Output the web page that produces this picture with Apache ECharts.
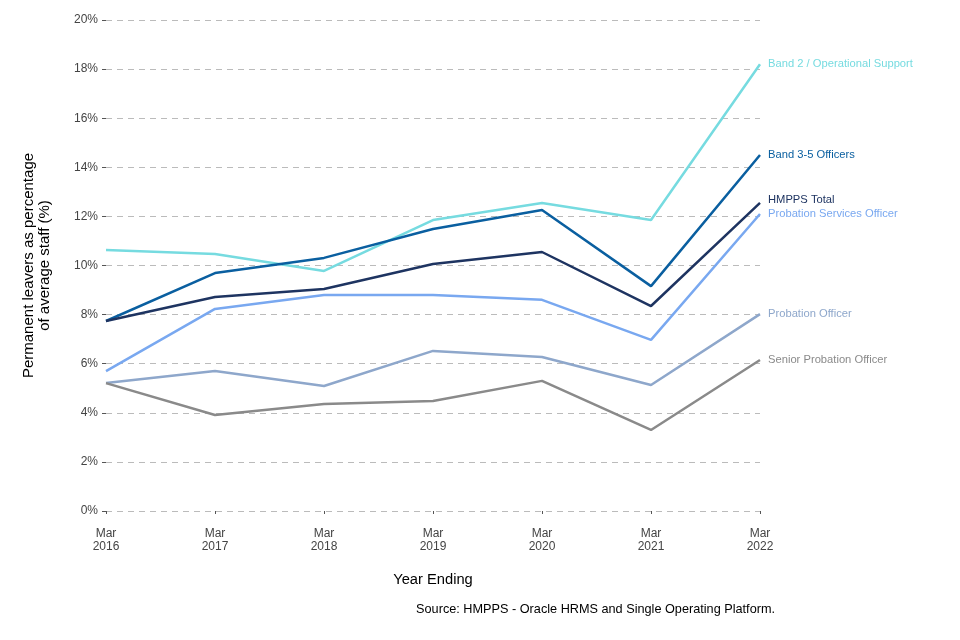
<!DOCTYPE html>
<html>
<head>
<meta charset="utf-8">
<script src="https://cdn.jsdelivr.net/npm/echarts@6/dist/echarts.min.js"></script>
<style>html,body{margin:0;padding:0;background:#fff}#c{width:960px;height:640px}</style>
</head>
<body>
<div id="c"></div>
<script>
var categories = ['Mar\n2016','Mar\n2017','Mar\n2018','Mar\n2019','Mar\n2020','Mar\n2021','Mar\n2022'];
var yTicks = [0,2,4,6,8,10,12,14,16,18,20];
var band2 = [10.63, 10.47, 9.78, 11.85, 12.55, 11.85, 18.2];
var band35 = [7.74, 9.69, 10.31, 11.49, 12.26, 9.16, 14.5];
var hmppsTotal = [7.74, 8.72, 9.04, 10.06, 10.55, 8.35, 12.55];
var pso = [5.70, 8.23, 8.80, 8.80, 8.60, 6.97, 12.1];
var po = [5.21, 5.70, 5.09, 6.52, 6.27, 5.13, 8.02];
var spo = [5.21, 3.91, 4.36, 4.48, 5.30, 3.30, 6.15];

var seriesDefs = [
  {name:'Band 2 / Operational Support', data: band2, color:'#76dbe0', off:[0,0]},
  {name:'Band 3-5 Officers', data: band35, color:'#0a5fa0', off:[0,0]},
  {name:'HMPPS Total', data: hmppsTotal, color:'#1e3461', off:[0,-3]},
  {name:'Probation Services Officer', data: pso, color:'#79a8f0', off:[0,0]},
  {name:'Probation Officer', data: po, color:'#8ea7cb', off:[0,0]},
  {name:'Senior Probation Officer', data: spo, color:'#8a8a8a', off:[0,0]}
];

var chart = echarts.init(document.getElementById('c'));
chart.setOption({
  animation: false,
  grid: {left: 106, right: 200, top: 20, bottom: 129, containLabel: false},
  xAxis: {
    type: 'category', data: categories, boundaryGap: false,
    name: 'Year Ending', nameLocation: 'middle', nameGap: 61,
    nameTextStyle: {fontFamily: 'Liberation Sans', fontSize: 14.7, color: '#000'},
    axisLine: {show: false},
    axisTick: {show: true, length: 3, alignWithLabel: true, lineStyle: {color: '#555'}},
    axisLabel: {fontFamily: 'Liberation Sans', fontSize: 12, color: '#444', lineHeight: 13, margin: 16},
    splitLine: {show: false}
  },
  yAxis: {
    type: 'value', min: 0, max: 20, interval: 2,
    name: 'Permanent leavers as percentage\nof average staff (%)',
    nameLocation: 'middle', nameGap: 53, nameRotate: 90,
    nameTextStyle: {fontFamily: 'Liberation Sans', fontSize: 15, color: '#000', lineHeight: 16},
    axisLine: {show: false},
    axisTick: {show: true, length: 4, lineStyle: {color: '#555'}},
    axisLabel: {fontFamily: 'Liberation Sans', fontSize: 12, color: '#444', margin: 8,
      formatter: function(v){ return v + '%'; }},
    splitLine: {show: true, lineStyle: {color: '#bbb', type: [6,5], width: 1}}
  },
  graphic: [{
    type: 'text', right: 185, top: 603,
    style: {text: 'Source: HMPPS - Oracle HRMS and Single Operating Platform.', fontFamily: 'Liberation Sans', fontSize: 12.7, fill: '#000'}
  }],
  series: seriesDefs.map(function(s){
    return {
      name: s.name, type: 'line', data: s.data, symbol: 'none',
      lineStyle: {color: s.color, width: 2.5},
      itemStyle: {color: s.color},
      endLabel: {show: true, formatter: s.name, color: s.color, fontFamily: 'Liberation Sans', fontSize: 11.2, distance: 8, offset: s.off},
      emphasis: {disabled: true}
    };
  })
});
</script>
</body>
</html>
